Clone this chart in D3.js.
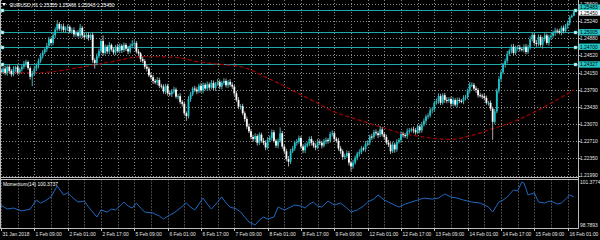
<!DOCTYPE html>
<html>
<head>
<meta charset="utf-8">
<script src="https://cdn.jsdelivr.net/npm/d3@7"></script>
<style>
  body { margin: 0; background: #000; }
  svg { display: block; font-family: "Liberation Sans", Arial, sans-serif; }
</style>
</head>
<body>
<svg id="chart"></svg>
<script>
// EURUSD H1, closes (one per bar)
var firstOpen = 1.2420;
var closes = [
  1.2417,1.2424,1.2415,1.2428,1.2419,1.2412,1.2423,1.2427,1.2416,1.2422,
  1.2428,1.2434,1.2438,1.2425,1.2407,1.2414,1.2424,1.2431,1.2440,1.2450,
  1.2458,1.2465,1.2472,1.2486,1.2478,1.2494,1.2506,1.2518,1.2508,1.2513,
  1.2505,1.2509,1.2512,1.2502,1.2505,1.2496,1.2500,1.2493,1.2510,1.2494,
  1.2490,1.2495,1.2489,1.2495,1.2442,1.2436,1.2450,1.2461,1.2482,1.2457,
  1.2470,1.2460,1.2474,1.2464,1.2458,1.2470,1.2461,1.2472,1.2463,1.2474,
  1.2466,1.2460,1.2472,1.2476,1.2478,1.2460,1.2456,1.2444,1.2440,1.2428,
  1.2424,1.2410,1.2406,1.2398,1.2395,1.2400,1.2388,1.2386,1.2376,1.2388,
  1.2372,1.2370,1.2376,1.2380,1.2365,1.2366,1.2354,1.2350,1.2330,1.2324,
  1.2360,1.2370,1.2382,1.2380,1.2376,1.2388,1.2378,1.2390,1.2382,1.2391,
  1.2384,1.2394,1.2383,1.2392,1.2396,1.2386,1.2394,1.2398,1.2389,1.2396,
  1.2390,1.2386,1.2372,1.2358,1.2344,1.2345,1.2330,1.2318,1.2302,1.2292,
  1.2280,1.2276,1.2282,1.2268,1.2285,1.2272,1.2268,1.2258,1.2274,1.2278,
  1.2290,1.2272,1.2262,1.2272,1.2288,1.2260,1.2250,1.2234,1.2228,1.2250,
  1.2256,1.2268,1.2270,1.2278,1.2260,1.2252,1.2262,1.2266,1.2276,1.2268,
  1.2262,1.2258,1.2270,1.2268,1.2262,1.2270,1.2274,1.2272,1.2286,1.2288,
  1.2276,1.2272,1.2256,1.2250,1.2238,1.2240,1.2246,1.2226,1.2218,1.2226,
  1.2236,1.2245,1.2248,1.2256,1.2255,1.2265,1.2268,1.2281,1.2280,1.2290,
  1.2288,1.2284,1.2296,1.2286,1.2280,1.2268,1.2264,1.2250,1.2264,1.2254,
  1.2270,1.2274,1.2286,1.2284,1.2282,1.2292,1.2294,1.2296,1.2294,1.2290,
  1.2302,1.2294,1.2306,1.2314,1.2323,1.2325,1.2336,1.2338,1.2352,1.2356,
  1.2366,1.2352,1.2368,1.2358,1.2356,1.2360,1.2350,1.2358,1.2348,1.2358,
  1.2356,1.2355,1.2362,1.2364,1.2378,1.2390,1.2390,1.2382,1.2379,1.2368,
  1.2367,1.2366,1.2362,1.2352,1.2352,1.2340,1.2312,1.2334,1.2378,1.2402,
  1.2416,1.2432,1.2440,1.2455,1.2462,1.2470,1.2457,1.2468,1.2468,1.2465,
  1.2464,1.2470,1.2459,1.2470,1.2486,1.2495,1.2478,1.2476,1.2491,1.2474,
  1.2486,1.2494,1.2478,1.2490,1.2493,1.2499,1.2504,1.2503,1.2500,1.2510,
  1.2503,1.2514,1.2520,1.2532,1.25355,1.25450
];
// wick lengths above / below the body, in pips
var wickUp = [
  5,4,6,3,5,4,6,3,5,4, 4,6,5,3,4,5,6,4,5,6, 5,4,6,5,4,6,5,8,4,5, 6,4,5,3,5,6,4,5,8,4,
  5,4,6,3,5,4,6,5,5,12, 5,4,6,3,5,4,6,5,4,5, 4,6,5,8,6,4,5,3,5,4, 5,4,6,5,4,6,5,4,5,4,
  4,6,5,6,4,5,6,4,5,4, 6,5,4,6,5,4,6,5,4,6, 4,6,5,4,6,5,4,6,5,4, 6,5,4,5,6,4,5,4,5,6,
  4,5,6,4,5,4,6,5,6,5, 6,5,4,5,12,5,4,5,6,5, 5,4,6,5,4,5,6,4,5,6, 4,5,6,5,4,6,5,4,5,6,
  5,4,6,5,4,5,6,5,4,6, 5,4,6,5,4,6,5,4,6,5, 6,5,7,5,4,5,6,5,6,4, 5,4,6,5,4,6,5,4,6,5,
  5,4,6,5,4,5,6,5,4,5, 6,5,4,5,6,4,5,6,4,5, 5,4,6,5,4,6,5,4,5,4, 5,4,6,5,4,5,4,5,4,6,
  5,4,5,6,4,5,6,4,5,6, 4,5,6,4,6,5,4,6,5,4, 5,6,4,5,4,5,6,4,5,4, 5,4,5,4,3,1.6
];
var wickDn = [
  5,4,5,6,4,5,4,6,5,4, 4,5,6,4,6,20,4,5,6,4, 5,4,6,5,4,5,6,4,5,6, 4,5,6,4,5,6,5,4,5,6,
  5,4,6,5,6,12,5,4,5,6, 4,5,6,4,5,6,4,5,6,4, 5,6,4,5,6,4,5,6,4,5, 6,4,5,6,4,6,5,4,5,6,
  5,4,6,5,4,6,5,6,5,10, 5,6,4,5,6,4,5,6,4,5, 6,4,5,6,4,5,6,4,5,6, 4,5,6,4,5,6,4,6,5,4,
  5,6,4,6,5,4,5,6,4,5, 6,4,5,6,4,5,6,5,10,5, 4,5,6,4,5,6,6,4,5,6, 5,6,4,5,6,4,5,6,4,5,
  6,4,5,6,6,5,4,6,10,5, 4,5,6,4,5,6,4,5,6,4, 5,6,4,5,6,4,5,6,4,7, 5,4,6,5,4,6,5,4,6,5,
  4,6,5,4,6,5,4,6,5,4, 6,5,4,6,5,4,6,5,4,6, 5,4,6,5,4,6,5,4,6,5, 4,6,5,4,6,5,38,5,4,6,
  5,4,6,5,4,6,5,4,6,5, 4,6,5,4,6,5,4,6,5,4, 8,5,4,6,5,4,6,5,4,6, 5,4,6,5,1.2,1.2
];

// moving average (red dashed), sampled at bar indexes
var maBars = [0,16,24,37,53,67,75,85,95,103,110,117,121,126,130,137,144,152,160,168,176,184,191,200,208,216,224,235,248,261,275];
var maVals = [1.2417,1.2415,1.2417,1.2426,1.2438,1.2449,1.2449,1.2447,1.2438,1.2434,1.2431,1.2426,1.2419,1.2408,1.2400,1.2385,1.2369,1.2351,1.2333,1.2321,1.2310,1.2299,1.2289,1.2282,1.2277,1.2275,1.2281,1.2296,1.2316,1.2344,1.2379];

// Momentum(14)
var momBars = [0,3,6,10,14,17,19,21,24,27,30,32,34,37,40,42,46,48,51,53,55,59,61,63,65,67,69,73,76,78,81,83,86,89,91,93,97,99,101,104,106,108,110,113,115,
  119,122,124,126,128,131,133,136,139,141,144,146,148,150,152,154,157,160,163,166,168,171,174,176,179,181,184,186,189,191,194,197,200,203,207,210,213,216,219,222,226,230,234,236,239,
  241,243,246,248,250,251,253,256,258,261,263,265,267,269,271,273,275];
var momVals = [99.99,99.75,99.81,99.63,99.75,100.29,100.11,100.23,100.48,101.14,100.60,100.72,100.48,100.17,100.23,99.87,99.27,99.69,99.57,99.75,99.69,100.17,99.93,99.81,100.11,99.81,99.57,
  99.51,99.33,99.15,99.39,99.51,99.81,100.11,99.87,99.69,100.41,100.05,99.75,100.17,100.48,100.11,99.87,99.75,99.57,
  98.97,98.79,99.09,99.27,99.15,99.27,99.87,99.69,99.87,99.99,99.93,99.81,100.05,100.17,99.93,99.87,100.23,99.99,100.11,99.81,99.57,99.69,99.93,100.17,100.35,100.60,100.29,100.17,99.99,99.87,
  100.05,100.17,100.29,100.41,100.35,100.41,100.66,100.47,100.41,100.29,100.17,100.11,99.87,99.57,100.17,
  100.29,100.48,100.90,100.84,101.38,101.32,100.60,100.72,100.17,100.11,100.23,100.17,100.05,100.11,100.35,100.60,100.48];

var priceTicks = [1.25600,1.25240,1.24880,1.24520,1.24150,1.23790,1.23430,1.23070,1.22710,1.22350,1.21990];
var levels = [1.25483,1.25005,1.24700,1.24327];
var timeLabels = ["31 Jan 2018","1 Feb 09:00","2 Feb 01:00","2 Feb 17:00","5 Feb 09:00","6 Feb 01:00","6 Feb 17:00",
  "7 Feb 09:00","8 Feb 01:00","8 Feb 17:00","9 Feb 09:00","12 Feb 01:00","12 Feb 17:00","13 Feb 09:00",
  "14 Feb 01:00","14 Feb 17:00","15 Feb 09:00","16 Feb 01:00"];
var momMax = 101.3774, momMin = 98.7893, momLast = 100.3737;

var width = 600, height = 240;
var axisX = 578.5;
var mainBottom = 177.5, momTop = 179.5, momBottom = 228.5;
var barStep = 2.0833;

var candles = closes.map(function(c, i) {
  var o = i === 0 ? firstOpen : closes[i - 1];
  return {i: i, open: o, close: c,
    high: Math.max(o, c) + wickUp[i] / 10000,
    low: Math.min(o, c) - wickDn[i] / 10000};
});
var last = candles[candles.length - 1];

var x = d3.scaleLinear().domain([0, 276]).range([1, 1 + 276 * barStep]);
var y = d3.scaleLinear().domain([1.21990, 1.25600]).range([175.5, 4]);
var yMom = d3.scaleLinear().domain([momMin, momMax]).range([225, 182]);

var svg = d3.select('#chart')
    .attr('width', width)
    .attr('height', height);

svg.append('rect').attr('width', width).attr('height', height).attr('fill', '#000');

svg.append('clipPath').attr('id', 'mainClip')
  .append('rect').attr('x', 0).attr('y', 0).attr('width', axisX).attr('height', mainBottom);
svg.append('clipPath').attr('id', 'momClip')
  .append('rect').attr('x', 0).attr('y', momTop).attr('width', axisX).attr('height', momBottom - momTop);

// grid
var gridColor = '#8a8a8a';
var vBars = d3.range(0, 276, 8);
[[0, mainBottom], [momTop, momBottom]].forEach(function(span) {
  svg.append('g').selectAll('line').data(vBars).enter().append('line')
      .attr('x1', d => Math.round(x(d)) + 0.5).attr('x2', d => Math.round(x(d)) + 0.5)
      .attr('y1', span[0]).attr('y2', span[1])
      .attr('stroke', gridColor).attr('stroke-width', 1).attr('stroke-dasharray', '1,2');
});
svg.append('g').selectAll('line').data(priceTicks).enter().append('line')
    .attr('x1', 0).attr('x2', axisX)
    .attr('y1', d => Math.round(y(d)) + 0.5).attr('y2', d => Math.round(y(d)) + 0.5)
    .attr('stroke', gridColor).attr('stroke-width', 1).attr('stroke-dasharray', '1,2');

// level lines
var levelColor = '#1fa9a9';
svg.append('g').selectAll('line').data(levels).enter().append('line')
    .attr('x1', 0).attr('x2', axisX)
    .attr('y1', d => Math.round(y(d)) + 0.5).attr('y2', d => Math.round(y(d)) + 0.5)
    .attr('stroke', levelColor).attr('stroke-width', 1.2);
[1, 574].forEach(function(px) {
  svg.append('g').selectAll('rect').data(levels).enter().append('rect')
      .attr('x', px).attr('y', d => Math.round(y(d)) - 1)
      .attr('width', 3).attr('height', 3)
      .attr('fill', '#dff').attr('stroke', levelColor).attr('stroke-width', 0.5);
});

// moving average
svg.append('path')
    .datum(maBars)
    .attr('clip-path', 'url(#mainClip)')
    .attr('fill', 'none')
    .attr('stroke', '#a80000')
    .attr('stroke-width', 1.2)
    .attr('stroke-dasharray', '4,2.5')
    .attr('d', d3.line().curve(d3.curveMonotoneX).x(d => x(d)).y((d, k) => y(maVals[k])));

// candles
var bull = '#19c6cf', bear = '#ffffff';
var cg = svg.append('g').attr('clip-path', 'url(#mainClip)');
cg.selectAll('line').data(candles).enter().append('line')
    .attr('x1', d => x(d.i)).attr('x2', d => x(d.i))
    .attr('y1', d => y(d.high)).attr('y2', d => y(d.low))
    .attr('stroke', d => d.close >= d.open ? '#4fa9ad' : '#a8a8a8')
    .attr('stroke-width', 1);
cg.selectAll('rect').data(candles).enter().append('rect')
    .attr('x', d => x(d.i) - 0.9)
    .attr('width', 1.8)
    .attr('y', d => y(Math.max(d.open, d.close)))
    .attr('height', d => Math.max(1, Math.abs(y(d.open) - y(d.close))))
    .attr('fill', d => d.close >= d.open ? bull : bear);

// momentum
svg.append('path')
    .datum(momBars)
    .attr('clip-path', 'url(#momClip)')
    .attr('fill', 'none')
    .attr('stroke', '#2068c0')
    .attr('stroke-width', 1)
    .attr('d', d3.line().x(d => x(d)).y((d, k) => yMom(momVals[k])));

// frames
var frame = '#bcbcbc';
svg.append('line').attr('x1', 0.5).attr('x2', 0.5).attr('y1', 0).attr('y2', momBottom).attr('stroke', frame);
svg.append('line').attr('x1', axisX).attr('x2', axisX).attr('y1', 0).attr('y2', momBottom).attr('stroke', frame);
[mainBottom, momTop, momBottom].forEach(function(yy) {
  svg.append('line').attr('x1', 0).attr('x2', axisX).attr('y1', yy).attr('y2', yy).attr('stroke', frame);
});

// price axis
var fs = '4.9px';
var ax = svg.append('g').attr('font-size', fs).attr('fill', '#e6e6e6');
ax.selectAll('text').data(priceTicks).enter().append('text')
    .attr('x', 580).attr('y', d => y(d) + 1.8)
    .text(d => d.toFixed(5));
svg.append('g').selectAll('line').data(priceTicks).enter().append('line')
    .attr('x1', axisX).attr('x2', axisX + 2)
    .attr('y1', d => Math.round(y(d)) + 0.5).attr('y2', d => Math.round(y(d)) + 0.5)
    .attr('stroke', frame);

// level price tags
var tags = svg.append('g').attr('font-size', fs);
levels.forEach(function(v, k) {
  var cy = y(v) - (k === 0 ? 2 : 0);
  tags.append('rect').attr('x', axisX + 0.5).attr('y', cy - 3.2).attr('width', 22).attr('height', 6.4).attr('fill', '#22c4c4');
  tags.append('text').attr('x', 580).attr('y', cy + 1.8).attr('fill', '#000').text(v.toFixed(5));
});
tags.append('rect').attr('x', axisX + 0.5).attr('y', y(last.close) - 1).attr('width', 22).attr('height', 5.5).attr('fill', '#fff');
tags.append('text').attr('x', 580).attr('y', y(last.close) + 3.6).attr('fill', '#000').text(last.close.toFixed(5));

// momentum axis labels
var mx = svg.append('g').attr('font-size', fs).attr('fill', '#e6e6e6');
mx.append('text').attr('x', 580).attr('y', yMom(momMax) + 1.6).text(momMax.toFixed(4));
mx.append('text').attr('x', 580).attr('y', yMom(momMin) + 2).text(momMin.toFixed(4));

// time axis
var tx = svg.append('g').attr('font-size', fs).attr('fill', '#e6e6e6');
tx.selectAll('text').data(timeLabels).enter().append('text')
    .attr('x', (d, k) => Math.round(x(k * 16)) + 1.5)
    .attr('y', 235.5)
    .text(d => d);
svg.append('g').selectAll('line').data(timeLabels).enter().append('line')
    .attr('x1', (d, k) => Math.round(x(k * 16)) + 0.5).attr('x2', (d, k) => Math.round(x(k * 16)) + 0.5)
    .attr('y1', momBottom).attr('y2', momBottom + 2.5)
    .attr('stroke', frame);

// header and indicator captions
svg.append('path').attr('d', 'M2,3 L6,3 L4,6 Z').attr('fill', '#fff');
svg.append('text').attr('x', 10).attr('y', 6.5).attr('font-size', fs).attr('fill', '#fff')
    .text('EURUSD,H1  ' + [last.open, last.high, last.low, last.close].map(v => v.toFixed(5)).join(' '));
svg.append('text').attr('x', 3).attr('y', 185.7).attr('font-size', fs).attr('fill', '#fff')
    .text('Momentum(14) ' + momLast.toFixed(4));
</script>
</body>
</html>
